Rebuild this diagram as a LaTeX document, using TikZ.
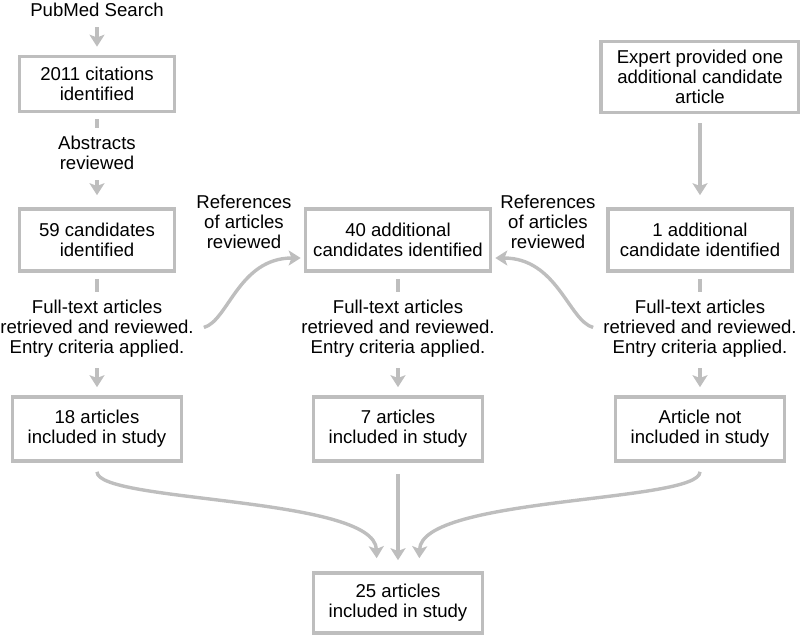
\documentclass[tikz,border=0pt]{standalone}
\usepackage{fontspec}
\setmainfont{Liberation Sans}
\usetikzlibrary{arrows.meta,calc}
\definecolor{flowgray}{HTML}{BEBEBE}
\tikzset{
  box/.style={draw=flowgray, line width=1.8pt, align=center, minimum width=84.5pt, minimum height=31pt, inner sep=2pt, font=\fontsize{9.3}{10}\selectfont},
  note/.style={align=center, inner sep=2pt, font=\fontsize{9.3}{10}\selectfont},
  stub/.style={draw=flowgray, line width=1.7pt, shorten <=3pt, shorten >=2pt},
  line/.style={-{Stealth[length=6pt,width=7.5pt,inset=1.4pt]}, draw=flowgray, line width=1.7pt, shorten <=3pt, shorten >=4pt}
}

\begin{document}
\begin{tikzpicture}[x=0.5pt,y=-0.5pt]
  \useasboundingbox (0,0) rectangle (800,637);

  % left column
  \node[note] (pubmed) at (97,10) {PubMed Search};
  \node[box, minimum width=77.5pt, minimum height=27.5pt] (cit) at (97,84) {2011 citations\\identified};
  \node[note] (abs) at (97,153) {Abstracts\\reviewed};
  \node[box, minimum width=77.5pt] (cand59) at (97,240) {59 candidates\\identified};
  \node[note] (ft1) at (97,329) {Full-text articles\\retrieved and reviewed.\\Entry criteria applied.};
  \node[box, minimum height=32pt] (inc18) at (97,429) {18 articles\\included in study};

  % middle column
  \node[box, minimum width=92.5pt] (cand40) at (398,240) {40 additional\\candidates identified};
  \node[note] (refl) at (244,222) {References\\of articles\\reviewed};
  \node[note] (refr) at (548,222) {References\\of articles\\reviewed};
  \node[note] (ft2) at (398,329) {Full-text articles\\retrieved and reviewed.\\Entry criteria applied.};
  \node[box, minimum height=32pt] (inc7) at (398,429) {7 articles\\included in study};
  \node[box, minimum height=30pt] (inc25) at (398,603) {25 articles\\included in study};

  % right column
  \node[box, minimum width=99pt, minimum height=35.5pt] (expert) at (700,77) {Expert provided one\\additional candidate\\article};
  \node[box, minimum width=92pt] (cand1) at (700,240) {1 additional\\candidate identified};
  \node[note] (ft3) at (700,329) {Full-text articles\\retrieved and reviewed.\\Entry criteria applied.};
  \node[box, minimum height=32pt] (notinc) at (700,429) {Article not\\included in study};

  \draw[line] (pubmed) -- (cit);
  \draw[stub] (cit) -- (abs);
  \draw[line, shorten >=6pt] (abs) -- (cand59);
  \draw[stub] (cand59) -- (ft1);
  \draw[line] (ft1) -- (inc18);

  \draw[stub] (cand40) -- (ft2);
  \draw[line] (ft2) -- (inc7);

  \draw[line, shorten <=4.5pt, shorten >=6pt] (expert) -- (cand1);
  \draw[stub] (cand1) -- (ft3);
  \draw[line] (ft3) -- (notinc);

  % references
  \draw[line, shorten >=1.5pt] (ft1.east) .. controls +(30,-8) and +(-65,0) .. ($(cand40.west)+(0,18)$);
  \draw[line, shorten >=1.5pt] (ft3.west) .. controls +(-30,-8) and +(65,0) .. ($(cand40.east)+(0,18)$);

  % into the study
  \draw[line, shorten <=4.5pt, shorten >=6.5pt] (inc18.south) .. controls +(0,40) and +(-2,-75) .. ($(inc25.north)+(-21,0)$);
  \draw[line, shorten <=5.5pt, shorten >=5.5pt] (inc7) -- (inc25);
  \draw[line, shorten <=4.5pt, shorten >=6.5pt] (notinc.south) .. controls +(0,40) and +(2,-75) .. ($(inc25.north)+(21,0)$);
\end{tikzpicture}
\end{document}
